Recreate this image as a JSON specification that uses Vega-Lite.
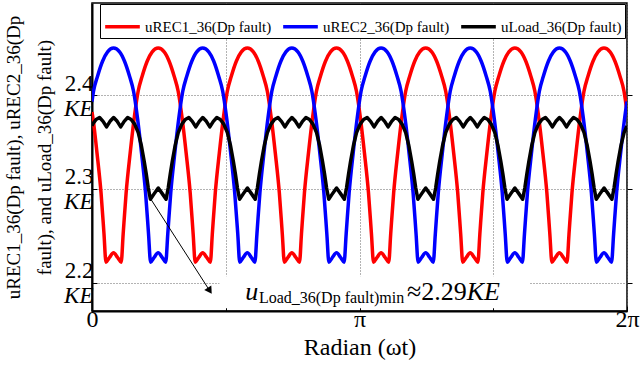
{
"$schema":"https://vega.github.io/schema/vega-lite/v6.json",
"width":535,"height":308,
"autosize":{"type":"none"},
"padding":{"left":92,"top":3,"right":13,"bottom":58},
"config":{"view":{"stroke":"black","strokeWidth":1.5},"font":"Liberation Serif",
"axis":{"labelFont":"Liberation Serif","titleFont":"Liberation Serif","labelColor":"black","titleColor":"black","titleFontWeight":"normal","domainColor":"black","tickColor":"black","gridColor":"#666666","gridDash":[1,2],"gridWidth":1}},
"data":{"values":[
{"x":0,"y":2.382,"s":"R"},{"x":0.012,"y":2.375,"s":"R"},{"x":0.059,"y":2.338,"s":"R"},{"x":0.106,"y":2.296,"s":"R"},{"x":0.141,"y":2.252,"s":"R"},{"x":0.164,"y":2.222,"s":"R"},{"x":0.205,"y":2.227,"s":"R"},
{"x":0.253,"y":2.232,"s":"R"},{"x":0.301,"y":2.227,"s":"R"},{"x":0.343,"y":2.222,"s":"R"},{"x":0.366,"y":2.252,"s":"R"},{"x":0.401,"y":2.296,"s":"R"},{"x":0.448,"y":2.338,"s":"R"},{"x":0.495,"y":2.375,"s":"R"},{"x":0.542,"y":2.404,"s":"R"},{"x":0.589,"y":2.420,"s":"R"},{"x":0.648,"y":2.436,"s":"R"},{"x":0.707,"y":2.446,"s":"R"},{"x":0.777,"y":2.450,"s":"R"},{"x":0.848,"y":2.446,"s":"R"},{"x":0.906,"y":2.436,"s":"R"},{"x":0.965,"y":2.420,"s":"R"},{"x":1.012,"y":2.404,"s":"R"},{"x":1.059,"y":2.375,"s":"R"},{"x":1.106,"y":2.338,"s":"R"},{"x":1.153,"y":2.296,"s":"R"},{"x":1.188,"y":2.252,"s":"R"},{"x":1.212,"y":2.222,"s":"R"},{"x":1.253,"y":2.227,"s":"R"},
{"x":1.300,"y":2.232,"s":"R"},{"x":1.348,"y":2.227,"s":"R"},{"x":1.390,"y":2.222,"s":"R"},{"x":1.413,"y":2.252,"s":"R"},{"x":1.448,"y":2.296,"s":"R"},{"x":1.495,"y":2.338,"s":"R"},{"x":1.542,"y":2.375,"s":"R"},{"x":1.589,"y":2.404,"s":"R"},{"x":1.636,"y":2.420,"s":"R"},{"x":1.695,"y":2.436,"s":"R"},{"x":1.754,"y":2.446,"s":"R"},{"x":1.824,"y":2.450,"s":"R"},{"x":1.895,"y":2.446,"s":"R"},{"x":1.953,"y":2.436,"s":"R"},{"x":2.012,"y":2.420,"s":"R"},{"x":2.059,"y":2.404,"s":"R"},{"x":2.106,"y":2.375,"s":"R"},{"x":2.153,"y":2.338,"s":"R"},{"x":2.200,"y":2.296,"s":"R"},{"x":2.235,"y":2.252,"s":"R"},{"x":2.259,"y":2.222,"s":"R"},{"x":2.300,"y":2.227,"s":"R"},
{"x":2.347,"y":2.232,"s":"R"},{"x":2.395,"y":2.227,"s":"R"},{"x":2.437,"y":2.222,"s":"R"},{"x":2.460,"y":2.252,"s":"R"},{"x":2.495,"y":2.296,"s":"R"},{"x":2.542,"y":2.338,"s":"R"},{"x":2.589,"y":2.375,"s":"R"},{"x":2.636,"y":2.404,"s":"R"},{"x":2.683,"y":2.420,"s":"R"},{"x":2.742,"y":2.436,"s":"R"},{"x":2.801,"y":2.446,"s":"R"},{"x":2.871,"y":2.450,"s":"R"},{"x":2.942,"y":2.446,"s":"R"},{"x":3.000,"y":2.436,"s":"R"},{"x":3.059,"y":2.420,"s":"R"},{"x":3.106,"y":2.404,"s":"R"},{"x":3.153,"y":2.375,"s":"R"},{"x":3.200,"y":2.338,"s":"R"},{"x":3.247,"y":2.296,"s":"R"},{"x":3.282,"y":2.252,"s":"R"},{"x":3.306,"y":2.222,"s":"R"},{"x":3.347,"y":2.227,"s":"R"},
{"x":3.395,"y":2.232,"s":"R"},{"x":3.443,"y":2.227,"s":"R"},{"x":3.485,"y":2.222,"s":"R"},{"x":3.508,"y":2.252,"s":"R"},{"x":3.543,"y":2.296,"s":"R"},{"x":3.590,"y":2.338,"s":"R"},{"x":3.637,"y":2.375,"s":"R"},{"x":3.684,"y":2.404,"s":"R"},{"x":3.731,"y":2.420,"s":"R"},{"x":3.790,"y":2.436,"s":"R"},{"x":3.849,"y":2.446,"s":"R"},{"x":3.919,"y":2.450,"s":"R"},{"x":3.990,"y":2.446,"s":"R"},{"x":4.048,"y":2.436,"s":"R"},{"x":4.107,"y":2.420,"s":"R"},{"x":4.154,"y":2.404,"s":"R"},{"x":4.201,"y":2.375,"s":"R"},{"x":4.248,"y":2.338,"s":"R"},{"x":4.295,"y":2.296,"s":"R"},{"x":4.330,"y":2.252,"s":"R"},{"x":4.354,"y":2.222,"s":"R"},{"x":4.395,"y":2.227,"s":"R"},
{"x":4.442,"y":2.232,"s":"R"},{"x":4.490,"y":2.227,"s":"R"},{"x":4.532,"y":2.222,"s":"R"},{"x":4.555,"y":2.252,"s":"R"},{"x":4.590,"y":2.296,"s":"R"},{"x":4.637,"y":2.338,"s":"R"},{"x":4.684,"y":2.375,"s":"R"},{"x":4.731,"y":2.404,"s":"R"},{"x":4.778,"y":2.420,"s":"R"},{"x":4.837,"y":2.436,"s":"R"},{"x":4.896,"y":2.446,"s":"R"},{"x":4.966,"y":2.450,"s":"R"},{"x":5.037,"y":2.446,"s":"R"},{"x":5.095,"y":2.436,"s":"R"},{"x":5.154,"y":2.420,"s":"R"},{"x":5.201,"y":2.404,"s":"R"},{"x":5.248,"y":2.375,"s":"R"},{"x":5.295,"y":2.338,"s":"R"},{"x":5.342,"y":2.296,"s":"R"},{"x":5.377,"y":2.252,"s":"R"},{"x":5.401,"y":2.222,"s":"R"},{"x":5.442,"y":2.227,"s":"R"},
{"x":5.489,"y":2.232,"s":"R"},{"x":5.537,"y":2.227,"s":"R"},{"x":5.579,"y":2.222,"s":"R"},{"x":5.602,"y":2.252,"s":"R"},{"x":5.637,"y":2.296,"s":"R"},{"x":5.684,"y":2.338,"s":"R"},{"x":5.731,"y":2.375,"s":"R"},{"x":5.778,"y":2.404,"s":"R"},{"x":5.825,"y":2.420,"s":"R"},{"x":5.884,"y":2.436,"s":"R"},{"x":5.943,"y":2.446,"s":"R"},{"x":6.013,"y":2.450,"s":"R"},{"x":6.084,"y":2.446,"s":"R"},{"x":6.142,"y":2.436,"s":"R"},{"x":6.201,"y":2.420,"s":"R"},{"x":6.248,"y":2.404,"s":"R"},{"x":6.283,"y":2.382,"s":"R"},
{"x":0,"y":2.393,"s":"B"},{"x":0.018,"y":2.404,"s":"B"},{"x":0.065,"y":2.420,"s":"B"},{"x":0.124,"y":2.436,"s":"B"},{"x":0.183,"y":2.446,"s":"B"},{"x":0.253,"y":2.450,"s":"B"},{"x":0.324,"y":2.446,"s":"B"},{"x":0.382,"y":2.436,"s":"B"},{"x":0.441,"y":2.420,"s":"B"},{"x":0.488,"y":2.404,"s":"B"},{"x":0.535,"y":2.375,"s":"B"},{"x":0.582,"y":2.338,"s":"B"},{"x":0.629,"y":2.296,"s":"B"},{"x":0.664,"y":2.252,"s":"B"},{"x":0.688,"y":2.222,"s":"B"},{"x":0.729,"y":2.227,"s":"B"},
{"x":0.777,"y":2.232,"s":"B"},{"x":0.825,"y":2.227,"s":"B"},{"x":0.866,"y":2.222,"s":"B"},{"x":0.890,"y":2.252,"s":"B"},{"x":0.925,"y":2.296,"s":"B"},{"x":0.972,"y":2.338,"s":"B"},{"x":1.019,"y":2.375,"s":"B"},{"x":1.066,"y":2.404,"s":"B"},{"x":1.113,"y":2.420,"s":"B"},{"x":1.172,"y":2.436,"s":"B"},{"x":1.230,"y":2.446,"s":"B"},{"x":1.300,"y":2.450,"s":"B"},{"x":1.371,"y":2.446,"s":"B"},{"x":1.430,"y":2.436,"s":"B"},{"x":1.488,"y":2.420,"s":"B"},{"x":1.535,"y":2.404,"s":"B"},{"x":1.582,"y":2.375,"s":"B"},{"x":1.629,"y":2.338,"s":"B"},{"x":1.676,"y":2.296,"s":"B"},{"x":1.712,"y":2.252,"s":"B"},{"x":1.735,"y":2.222,"s":"B"},{"x":1.776,"y":2.227,"s":"B"},
{"x":1.824,"y":2.232,"s":"B"},{"x":1.872,"y":2.227,"s":"B"},{"x":1.913,"y":2.222,"s":"B"},{"x":1.937,"y":2.252,"s":"B"},{"x":1.972,"y":2.296,"s":"B"},{"x":2.019,"y":2.338,"s":"B"},{"x":2.066,"y":2.375,"s":"B"},{"x":2.112,"y":2.404,"s":"B"},{"x":2.159,"y":2.420,"s":"B"},{"x":2.218,"y":2.436,"s":"B"},{"x":2.277,"y":2.446,"s":"B"},{"x":2.347,"y":2.450,"s":"B"},{"x":2.418,"y":2.446,"s":"B"},{"x":2.476,"y":2.436,"s":"B"},{"x":2.535,"y":2.420,"s":"B"},{"x":2.582,"y":2.404,"s":"B"},{"x":2.629,"y":2.375,"s":"B"},{"x":2.676,"y":2.338,"s":"B"},{"x":2.723,"y":2.296,"s":"B"},{"x":2.758,"y":2.252,"s":"B"},{"x":2.782,"y":2.222,"s":"B"},{"x":2.823,"y":2.227,"s":"B"},
{"x":2.872,"y":2.232,"s":"B"},{"x":2.920,"y":2.227,"s":"B"},{"x":2.961,"y":2.222,"s":"B"},{"x":2.985,"y":2.252,"s":"B"},{"x":3.020,"y":2.296,"s":"B"},{"x":3.067,"y":2.338,"s":"B"},{"x":3.114,"y":2.375,"s":"B"},{"x":3.160,"y":2.404,"s":"B"},{"x":3.207,"y":2.420,"s":"B"},{"x":3.266,"y":2.436,"s":"B"},{"x":3.325,"y":2.446,"s":"B"},{"x":3.395,"y":2.450,"s":"B"},{"x":3.466,"y":2.446,"s":"B"},{"x":3.524,"y":2.436,"s":"B"},{"x":3.583,"y":2.420,"s":"B"},{"x":3.630,"y":2.404,"s":"B"},{"x":3.677,"y":2.375,"s":"B"},{"x":3.724,"y":2.338,"s":"B"},{"x":3.771,"y":2.296,"s":"B"},{"x":3.806,"y":2.252,"s":"B"},{"x":3.830,"y":2.222,"s":"B"},{"x":3.871,"y":2.227,"s":"B"},
{"x":3.919,"y":2.232,"s":"B"},{"x":3.967,"y":2.227,"s":"B"},{"x":4.008,"y":2.222,"s":"B"},{"x":4.032,"y":2.252,"s":"B"},{"x":4.067,"y":2.296,"s":"B"},{"x":4.114,"y":2.338,"s":"B"},{"x":4.161,"y":2.375,"s":"B"},{"x":4.207,"y":2.404,"s":"B"},{"x":4.254,"y":2.420,"s":"B"},{"x":4.313,"y":2.436,"s":"B"},{"x":4.372,"y":2.446,"s":"B"},{"x":4.442,"y":2.450,"s":"B"},{"x":4.513,"y":2.446,"s":"B"},{"x":4.571,"y":2.436,"s":"B"},{"x":4.630,"y":2.420,"s":"B"},{"x":4.677,"y":2.404,"s":"B"},{"x":4.724,"y":2.375,"s":"B"},{"x":4.771,"y":2.338,"s":"B"},{"x":4.818,"y":2.296,"s":"B"},{"x":4.853,"y":2.252,"s":"B"},{"x":4.877,"y":2.222,"s":"B"},{"x":4.918,"y":2.227,"s":"B"},
{"x":4.966,"y":2.232,"s":"B"},{"x":5.014,"y":2.227,"s":"B"},{"x":5.055,"y":2.222,"s":"B"},{"x":5.079,"y":2.252,"s":"B"},{"x":5.114,"y":2.296,"s":"B"},{"x":5.161,"y":2.338,"s":"B"},{"x":5.208,"y":2.375,"s":"B"},{"x":5.254,"y":2.404,"s":"B"},{"x":5.301,"y":2.420,"s":"B"},{"x":5.360,"y":2.436,"s":"B"},{"x":5.419,"y":2.446,"s":"B"},{"x":5.489,"y":2.450,"s":"B"},{"x":5.560,"y":2.446,"s":"B"},{"x":5.618,"y":2.436,"s":"B"},{"x":5.677,"y":2.420,"s":"B"},{"x":5.724,"y":2.404,"s":"B"},{"x":5.771,"y":2.375,"s":"B"},{"x":5.818,"y":2.338,"s":"B"},{"x":5.865,"y":2.296,"s":"B"},{"x":5.900,"y":2.252,"s":"B"},{"x":5.924,"y":2.222,"s":"B"},{"x":5.965,"y":2.227,"s":"B"},
{"x":6.013,"y":2.232,"s":"B"},{"x":6.061,"y":2.227,"s":"B"},{"x":6.102,"y":2.222,"s":"B"},{"x":6.126,"y":2.252,"s":"B"},{"x":6.161,"y":2.296,"s":"B"},{"x":6.208,"y":2.338,"s":"B"},{"x":6.255,"y":2.375,"s":"B"},{"x":6.283,"y":2.393,"s":"B"},
{"x":0,"y":2.367,"s":"L"},{"x":0.007,"y":2.369,"s":"L"},{"x":0.048,"y":2.374,"s":"L"},{"x":0.089,"y":2.376,"s":"L"},{"x":0.130,"y":2.372,"s":"L"},{"x":0.171,"y":2.366,"s":"L"},{"x":0.212,"y":2.372,"s":"L"},
{"x":0.254,"y":2.376,"s":"L"},{"x":0.296,"y":2.372,"s":"L"},{"x":0.337,"y":2.366,"s":"L"},{"x":0.378,"y":2.372,"s":"L"},{"x":0.419,"y":2.376,"s":"L"},{"x":0.460,"y":2.374,"s":"L"},{"x":0.501,"y":2.369,"s":"L"},{"x":0.543,"y":2.360,"s":"L"},{"x":0.578,"y":2.347,"s":"L"},{"x":0.614,"y":2.329,"s":"L"},{"x":0.637,"y":2.316,"s":"L"},{"x":0.661,"y":2.301,"s":"L"},{"x":0.686,"y":2.289,"s":"L"},{"x":0.731,"y":2.295,"s":"L"},{"x":0.778,"y":2.301,"s":"L"},{"x":0.825,"y":2.295,"s":"L"},{"x":0.870,"y":2.289,"s":"L"},{"x":0.895,"y":2.301,"s":"L"},{"x":0.919,"y":2.316,"s":"L"},{"x":0.942,"y":2.329,"s":"L"},{"x":0.978,"y":2.347,"s":"L"},{"x":1.013,"y":2.360,"s":"L"},{"x":1.055,"y":2.369,"s":"L"},{"x":1.096,"y":2.374,"s":"L"},{"x":1.137,"y":2.376,"s":"L"},{"x":1.178,"y":2.372,"s":"L"},{"x":1.219,"y":2.366,"s":"L"},{"x":1.260,"y":2.372,"s":"L"},
{"x":1.301,"y":2.376,"s":"L"},{"x":1.343,"y":2.372,"s":"L"},{"x":1.384,"y":2.366,"s":"L"},{"x":1.425,"y":2.372,"s":"L"},{"x":1.466,"y":2.376,"s":"L"},{"x":1.507,"y":2.374,"s":"L"},{"x":1.548,"y":2.369,"s":"L"},{"x":1.590,"y":2.360,"s":"L"},{"x":1.625,"y":2.347,"s":"L"},{"x":1.661,"y":2.329,"s":"L"},{"x":1.684,"y":2.316,"s":"L"},{"x":1.708,"y":2.301,"s":"L"},{"x":1.733,"y":2.289,"s":"L"},{"x":1.778,"y":2.295,"s":"L"},{"x":1.825,"y":2.301,"s":"L"},{"x":1.872,"y":2.295,"s":"L"},{"x":1.917,"y":2.289,"s":"L"},{"x":1.942,"y":2.301,"s":"L"},{"x":1.966,"y":2.316,"s":"L"},{"x":1.989,"y":2.329,"s":"L"},{"x":2.025,"y":2.347,"s":"L"},{"x":2.060,"y":2.360,"s":"L"},{"x":2.102,"y":2.369,"s":"L"},{"x":2.143,"y":2.374,"s":"L"},{"x":2.184,"y":2.376,"s":"L"},{"x":2.225,"y":2.372,"s":"L"},{"x":2.266,"y":2.366,"s":"L"},{"x":2.307,"y":2.372,"s":"L"},
{"x":2.348,"y":2.376,"s":"L"},{"x":2.390,"y":2.372,"s":"L"},{"x":2.431,"y":2.366,"s":"L"},{"x":2.472,"y":2.372,"s":"L"},{"x":2.513,"y":2.376,"s":"L"},{"x":2.554,"y":2.374,"s":"L"},{"x":2.595,"y":2.369,"s":"L"},{"x":2.637,"y":2.360,"s":"L"},{"x":2.672,"y":2.347,"s":"L"},{"x":2.708,"y":2.329,"s":"L"},{"x":2.731,"y":2.316,"s":"L"},{"x":2.755,"y":2.301,"s":"L"},{"x":2.780,"y":2.289,"s":"L"},{"x":2.825,"y":2.295,"s":"L"},{"x":2.872,"y":2.301,"s":"L"},{"x":2.919,"y":2.295,"s":"L"},{"x":2.964,"y":2.289,"s":"L"},{"x":2.989,"y":2.301,"s":"L"},{"x":3.013,"y":2.316,"s":"L"},{"x":3.036,"y":2.329,"s":"L"},{"x":3.072,"y":2.347,"s":"L"},{"x":3.107,"y":2.360,"s":"L"},{"x":3.149,"y":2.369,"s":"L"},{"x":3.190,"y":2.374,"s":"L"},{"x":3.231,"y":2.376,"s":"L"},{"x":3.272,"y":2.372,"s":"L"},{"x":3.313,"y":2.366,"s":"L"},{"x":3.354,"y":2.372,"s":"L"},
{"x":3.396,"y":2.376,"s":"L"},{"x":3.437,"y":2.372,"s":"L"},{"x":3.478,"y":2.366,"s":"L"},{"x":3.519,"y":2.372,"s":"L"},{"x":3.560,"y":2.376,"s":"L"},{"x":3.601,"y":2.374,"s":"L"},{"x":3.642,"y":2.369,"s":"L"},{"x":3.684,"y":2.360,"s":"L"},{"x":3.719,"y":2.347,"s":"L"},{"x":3.755,"y":2.329,"s":"L"},{"x":3.778,"y":2.316,"s":"L"},{"x":3.802,"y":2.301,"s":"L"},{"x":3.827,"y":2.289,"s":"L"},{"x":3.872,"y":2.295,"s":"L"},{"x":3.919,"y":2.301,"s":"L"},{"x":3.966,"y":2.295,"s":"L"},{"x":4.011,"y":2.289,"s":"L"},{"x":4.036,"y":2.301,"s":"L"},{"x":4.060,"y":2.316,"s":"L"},{"x":4.083,"y":2.329,"s":"L"},{"x":4.119,"y":2.347,"s":"L"},{"x":4.154,"y":2.360,"s":"L"},{"x":4.196,"y":2.369,"s":"L"},{"x":4.237,"y":2.374,"s":"L"},{"x":4.278,"y":2.376,"s":"L"},{"x":4.319,"y":2.372,"s":"L"},{"x":4.360,"y":2.366,"s":"L"},{"x":4.401,"y":2.372,"s":"L"},
{"x":4.443,"y":2.376,"s":"L"},{"x":4.484,"y":2.372,"s":"L"},{"x":4.525,"y":2.366,"s":"L"},{"x":4.566,"y":2.372,"s":"L"},{"x":4.607,"y":2.376,"s":"L"},{"x":4.648,"y":2.374,"s":"L"},{"x":4.689,"y":2.369,"s":"L"},{"x":4.731,"y":2.360,"s":"L"},{"x":4.766,"y":2.347,"s":"L"},{"x":4.802,"y":2.329,"s":"L"},{"x":4.825,"y":2.316,"s":"L"},{"x":4.849,"y":2.301,"s":"L"},{"x":4.874,"y":2.289,"s":"L"},{"x":4.919,"y":2.295,"s":"L"},{"x":4.966,"y":2.301,"s":"L"},{"x":5.013,"y":2.295,"s":"L"},{"x":5.058,"y":2.289,"s":"L"},{"x":5.083,"y":2.301,"s":"L"},{"x":5.107,"y":2.316,"s":"L"},{"x":5.130,"y":2.329,"s":"L"},{"x":5.166,"y":2.347,"s":"L"},{"x":5.201,"y":2.360,"s":"L"},{"x":5.243,"y":2.369,"s":"L"},{"x":5.284,"y":2.374,"s":"L"},{"x":5.325,"y":2.376,"s":"L"},{"x":5.366,"y":2.372,"s":"L"},{"x":5.407,"y":2.366,"s":"L"},{"x":5.448,"y":2.372,"s":"L"},
{"x":5.490,"y":2.376,"s":"L"},{"x":5.532,"y":2.372,"s":"L"},{"x":5.573,"y":2.366,"s":"L"},{"x":5.614,"y":2.372,"s":"L"},{"x":5.655,"y":2.376,"s":"L"},{"x":5.696,"y":2.374,"s":"L"},{"x":5.737,"y":2.369,"s":"L"},{"x":5.779,"y":2.360,"s":"L"},{"x":5.814,"y":2.347,"s":"L"},{"x":5.850,"y":2.329,"s":"L"},{"x":5.873,"y":2.316,"s":"L"},{"x":5.897,"y":2.301,"s":"L"},{"x":5.922,"y":2.289,"s":"L"},{"x":5.967,"y":2.295,"s":"L"},{"x":6.014,"y":2.301,"s":"L"},{"x":6.061,"y":2.295,"s":"L"},{"x":6.106,"y":2.289,"s":"L"},{"x":6.131,"y":2.301,"s":"L"},{"x":6.155,"y":2.316,"s":"L"},{"x":6.178,"y":2.329,"s":"L"},{"x":6.214,"y":2.347,"s":"L"},{"x":6.249,"y":2.360,"s":"L"},{"x":6.283,"y":2.367,"s":"L"}
]},
"layer":[
{"transform":[{"filter":"datum.s=='R'"}],
 "mark":{"type":"line","strokeWidth":3.5,"strokeJoin":"round","clip":true,"interpolate":"monotone"},
 "encoding":{
  "x":{"field":"x","type":"quantitative","scale":{"domain":[0,6.2832],"nice":false,"zero":false},
   "axis":{"orient":"bottom","values":[0,1.5708,3.1416,4.7124,6.2832],"labelExpr":"datum.value < 0.1 ? '0' : abs(datum.value - 3.1416) < 0.01 ? 'π' : datum.value > 6.2 ? '2π' : ''","title":"Radian (ωt)","labelFontSize":24,"titleFontSize":24,"grid":true,"tickSize":-5,"domainWidth":2,"labelPadding":1,"titlePadding":4,"labelFlush":false,"labelOverlap":false}},
  "y":{"field":"y","type":"quantitative","scale":{"domain":[2.17,2.498],"nice":false,"zero":false},
   "axis":{"orient":"left","values":[2.2,2.3,2.4],"format":".1f","labelFontSize":23,"labelBaseline":"middle","labelOffset":-12,"labelPadding":4,"tickSize":-5,"domainWidth":2,"grid":true,"labelOverlap":false,"labelBound":false,"labelFlush":false,
    "title":["uREC1_36(Dp fault), uREC2_36(Dp","fault), and uLoad_36(Dp fault)"],"titleFontSize":19,"titleLineHeight":31,"titleAngle":-90,"titleX":-88,"titleY":154,"titleAlign":"center","titleBaseline":"top"}},
  "color":{"field":"s","type":"nominal","scale":{"domain":["R","B","L"],"range":["#ff0000","#0000ff","#000000"]},
   "legend":{"orient":"none","legendX":8,"legendY":1,"direction":"horizontal","title":null,"symbolType":"stroke","symbolStrokeWidth":3.5,"symbolSize":1200,"labelFont":"Liberation Serif","labelFontSize":15,"labelColor":"black","strokeColor":"black","fillColor":"white","padding":3,"columnPadding":4,"labelOffset":3,"labelLimit":300,
    "labelExpr":"datum.value=='R' ? 'uREC1_36(Dp fault)' : datum.value=='B' ? 'uREC2_36(Dp fault)' : 'uLoad_36(Dp fault)'"}}}},
{"transform":[{"filter":"datum.s=='B'"}],
 "mark":{"type":"line","strokeWidth":3.5,"strokeJoin":"round","clip":true,"interpolate":"monotone"},
 "encoding":{"x":{"field":"x","type":"quantitative"},
  "y":{"field":"y","type":"quantitative","axis":{"orient":"left","values":[2.2,2.3,2.4],"labelExpr":"'KE'","labelFontStyle":"italic","labelFontSize":23,"labelBaseline":"middle","labelOffset":13,"labelPadding":4,"tickSize":-5,"tickOpacity":0,"domain":false,"grid":false,"title":null,"labelOverlap":false,"labelBound":false,"labelFlush":false}},
  "color":{"field":"s","type":"nominal","legend":null}}},
{"transform":[{"filter":"datum.s=='L'"}],
 "mark":{"type":"line","strokeWidth":3.5,"strokeJoin":"round","clip":true},
 "encoding":{"x":{"field":"x","type":"quantitative"},"y":{"field":"y","type":"quantitative","axis":null},"color":{"field":"s","type":"nominal","legend":null}}},
{"data":{"values":[{"x":1.497,"x2":5.138,"y":2.173,"y2":2.207}]},
 "mark":{"type":"rect","fill":"white"},
 "encoding":{"x":{"field":"x","type":"quantitative"},"x2":{"field":"x2"},
  "y":{"field":"y","type":"quantitative","axis":{"orient":"right","labels":false,"title":null,"values":[2.2,2.3,2.4],"tickSize":5,"grid":false,"domain":false}},"y2":{"field":"y2"}}},
{"data":{"values":[{"x":0.675,"y":2.2914,"x2":1.383,"y2":2.1915}]},
 "mark":{"type":"rule","color":"black","strokeWidth":1},
 "encoding":{"x":{"field":"x","type":"quantitative"},"x2":{"field":"x2"},"y":{"field":"y","type":"quantitative","axis":null},"y2":{"field":"y2"}}},
{"data":{"values":[{"x":1.383,"y":2.1915}]},
 "mark":{"type":"point","shape":"triangle-up","angle":147,"size":70,"filled":true,"color":"black","opacity":1},
 "encoding":{"x":{"field":"x","type":"quantitative"},"y":{"field":"y","type":"quantitative","axis":null}}},
{"data":{"values":[{"x":1.80,"y":2.182,"t":"u"},{"x":4.4,"y":2.182,"t":"KE"}]},
 "mark":{"type":"text","font":"Liberation Serif","fontSize":26,"fontStyle":"italic","align":"left","baseline":"alphabetic","color":"black"},
 "encoding":{"x":{"field":"x","type":"quantitative"},"y":{"field":"y","type":"quantitative","axis":null},"text":{"field":"t"}}},
{"data":{"values":[{"x":1.96,"y":2.178,"t":"Load_36(Dp fault)min"}]},
 "mark":{"type":"text","font":"Liberation Serif","fontSize":16,"align":"left","baseline":"alphabetic","color":"black"},
 "encoding":{"x":{"field":"x","type":"quantitative"},"y":{"field":"y","type":"quantitative","axis":null},"text":{"field":"t"}}},
{"data":{"values":[{"x":3.70,"y":2.182,"t":"≈2.29"}]},
 "mark":{"type":"text","font":"Liberation Serif","fontSize":26,"align":"left","baseline":"alphabetic","color":"black"},
 "encoding":{"x":{"field":"x","type":"quantitative"},"y":{"field":"y","type":"quantitative","axis":null},"text":{"field":"t"}}}
],
"resolve":{"axis":{"x":"shared","y":"independent"}}
}
